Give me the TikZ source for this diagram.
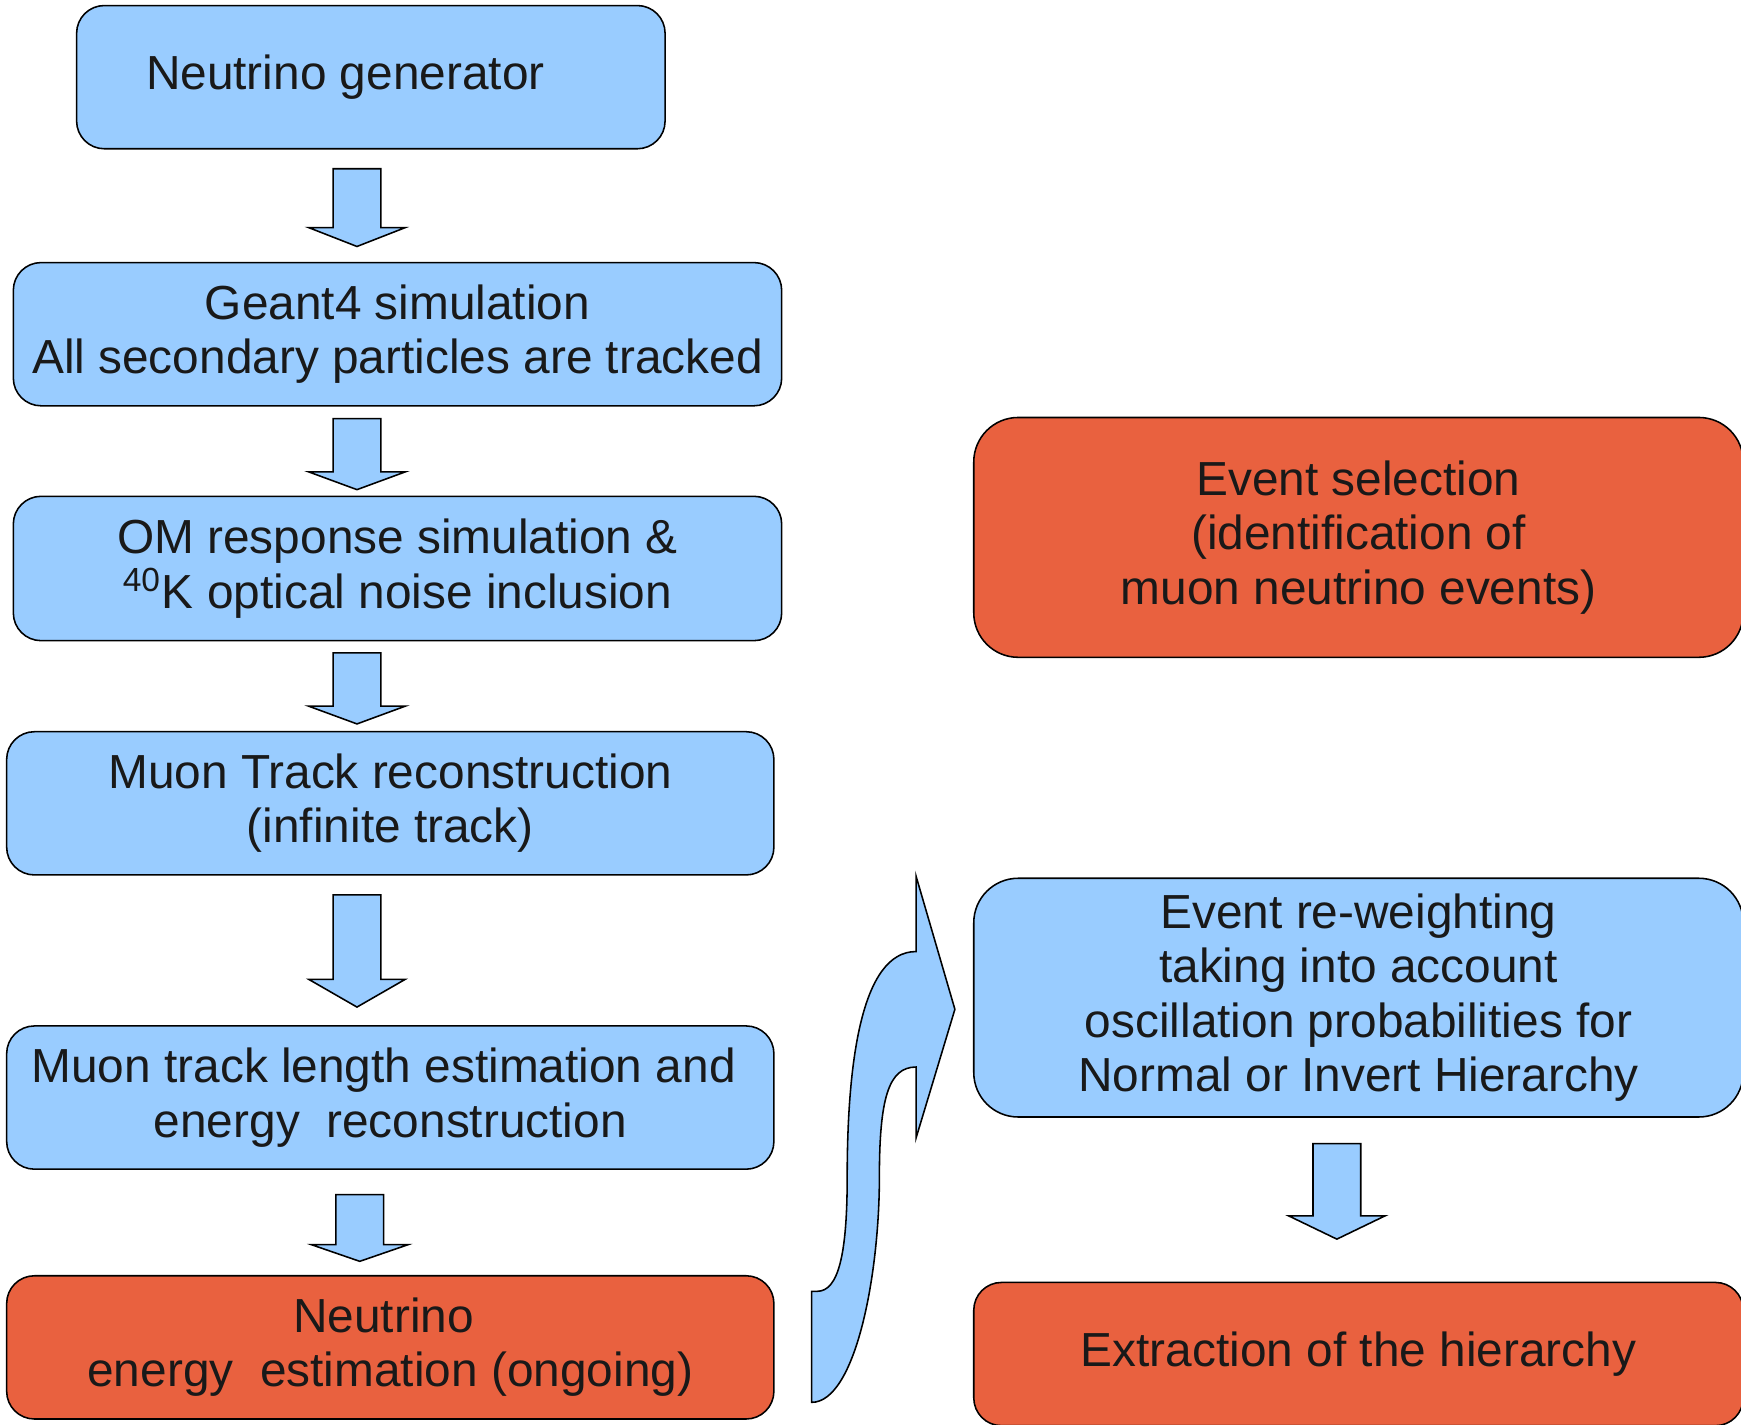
\documentclass[tikz,border=0pt]{standalone}
\usepackage{fontspec}
\setmainfont{Liberation Sans}
\usetikzlibrary{positioning}

\definecolor{skyblue}{HTML}{99CCFF}
\definecolor{brick}{HTML}{E9613F}

\begin{document}
\begin{tikzpicture}[
    text=black!90, text centered,
    font=\fontsize{12.25}{13.95}\selectfont,
    box/.style={draw, line width=0.4pt, rounded corners=0.25cm, align=center,
      inner sep=0pt, minimum width=6.92cm, minimum height=1.29cm},
    bigbox/.style={box, rounded corners=0.4cm, minimum height=2.16cm},
    blockarrow/.style={draw, line width=0.4pt, fill=skyblue, line join=miter},
  ]

  \useasboundingbox (0,0) rectangle (15.68,-12.83);

  % simulation chain
  \node[box, fill=skyblue, minimum width=5.30cm] (gen) at (3.34,-0.695) {Neutrino generator\hspace*{0.46cm}};
  \node[box, fill=skyblue] (geant) at (3.58,-3.01) {Geant4 simulation\\All secondary particles are tracked};
  \node[box, fill=skyblue, minimum height=1.30cm] (om) at (3.58,-5.12) {OM response simulation \&\\\textsuperscript{40}K optical noise inclusion};
  \node[box, fill=skyblue, minimum width=6.91cm] (reco) at (3.515,-7.235) {Muon Track reconstruction\\(infinite track)};
  \node[box, fill=skyblue, minimum width=6.91cm] (length) at (3.515,-9.885) {Muon track length estimation and\hspace*{0.12cm}\\energy\ \ reconstruction};
  \node[box, fill=brick, minimum width=6.91cm] (nuen) at (3.515,-12.135) {Neutrino\hspace*{0.12cm}\\energy\ \ estimation (ongoing)};

  % analysis chain
  \node[bigbox, fill=brick, minimum width=6.93cm] (sel) at (12.235,-4.84) {Event selection\\(identification of\hspace*{0.12cm}\\muon neutrino events)};
  \node[bigbox, fill=skyblue, minimum width=6.93cm, minimum height=2.15cm] (rew) at (12.235,-8.985) {Event re-weighting\\taking into account\hspace*{0.12cm}\\oscillation probabilities for\hspace*{0.12cm}\\Normal or Invert Hierarchy};
  \node[box, fill=brick, minimum width=6.93cm] (hier) at (12.235,-12.195) {Extraction of the hierarchy};

  % block arrows
  \foreach \x/\ya/\yb/\yc in {3.215/1.52/2.05/2.22, 3.215/3.77/4.25/4.41, 3.215/5.88/6.36/6.52,
      3.215/8.06/8.82/9.07, 3.24/10.76/11.21/11.36, 12.04/10.30/10.95/11.16}
    \draw[blockarrow] (\x-0.215,-\ya) -- (\x+0.215,-\ya) -- (\x+0.215,-\yb) -- (\x+0.435,-\yb)
      -- (\x,-\yc) -- (\x-0.435,-\yb) -- (\x-0.215,-\yb) -- cycle;

  % bent arrow to the re-weighting
  \draw[blockarrow] (7.31,-12.63) .. controls (7.70,-12.63) and (7.92,-11.50) .. (7.92,-10.60)
    .. controls (7.92,-9.90) and (8.00,-9.61) .. (8.25,-9.61) -- (8.25,-10.25) -- (8.60,-9.09)
    -- (8.25,-7.89) -- (8.25,-8.57) .. controls (7.75,-8.57) and (7.63,-9.60) .. (7.63,-10.60)
    .. controls (7.63,-11.30) and (7.55,-11.63) .. (7.36,-11.63) -- (7.31,-11.63) -- cycle;

\end{tikzpicture}
\end{document}
